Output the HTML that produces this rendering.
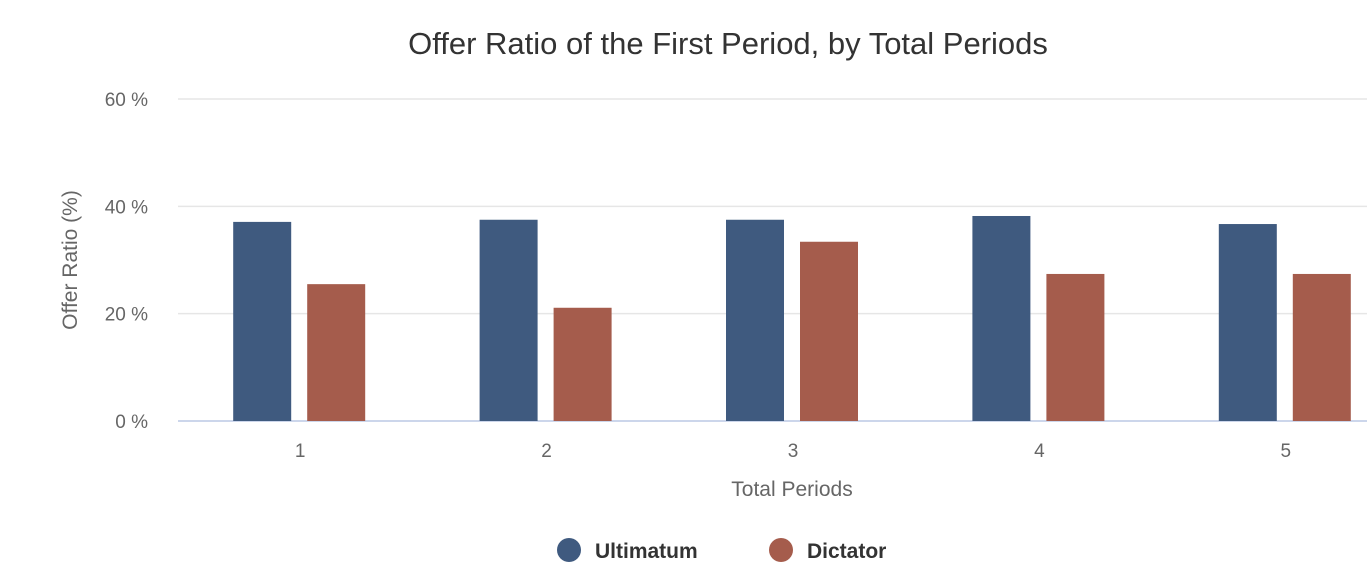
<!DOCTYPE html>
<html><head><meta charset="utf-8">
<style>
body{margin:0;background:#fff;font-family:"Liberation Sans",sans-serif;}
svg{display:block}
</style></head>
<body>
<svg width="1367" height="574">
<text x="728" y="54" text-anchor="middle" font-size="31" fill="#333">Offer Ratio of the First Period, by Total Periods</text>
<g id="grid"></g>
<g id="bars"></g>
<g id="xlabels"></g>
<text x="792" y="496" text-anchor="middle" font-size="21" fill="#666">Total Periods</text>
<text transform="translate(77,260) rotate(-90)" text-anchor="middle" font-size="21" fill="#666">Offer Ratio (%)</text>
<g><circle cx="569" cy="550" r="12" fill="#3f5a7f"/><text x="595" y="558" font-size="21" font-weight="bold" fill="#333">Ultimatum</text></g>
<g><circle cx="781" cy="550" r="12" fill="#a55c4c"/><text x="807" y="558" font-size="21" font-weight="bold" fill="#333">Dictator</text></g>
</svg>
<script>
const categories=["1","2","3","4","5"];
const ultimatum=[37.1,37.5,37.5,38.2,36.7];
const dictator=[25.5,21.1,33.4,27.4,27.4];
const yTicks=[0,20,40,60];
const NS="http://www.w3.org/2000/svg";
const y0=421,yTop=99,yMax=60,xLeft=177,catW=246.4;
const y=v=>y0-(v/yMax)*(y0-yTop);
const xc=i=>xLeft+catW*(i+0.5);
function mk(tag,attrs,parent){const e=document.createElementNS(NS,tag);for(const k in attrs)e.setAttribute(k,attrs[k]);parent.appendChild(e);return e;}
const grid=document.getElementById('grid');
yTicks.forEach(t=>{
 const l=mk('line',{x1:178,x2:1367,y1:y(t),y2:y(t),stroke:t===0?'#ccd6eb':'#e6e6e6','stroke-width':t===0?2:1.5},grid);
 
 
 const tx=mk('text',{x:148,y:y(t)+7,'text-anchor':'end','font-size':19,fill:'#666'},grid);
 tx.textContent=t+' %';
 
 
});
const bars=document.getElementById('bars'),xl=document.getElementById('xlabels');
categories.forEach((c,i)=>{
 const cx=xc(i);
 const u=mk('rect',{x:cx-67,y:y(ultimatum[i]),width:58,height:y0-y(ultimatum[i]),fill:'#3f5a7f'},bars);
 
 
 const d=mk('rect',{x:cx+7,y:y(dictator[i]),width:58,height:y0-y(dictator[i]),fill:'#a55c4c'},bars);
 
 
 const t=mk('text',{x:cx,y:457,'text-anchor':'middle','font-size':19,fill:'#666'},xl);
 t.textContent=c;
 
 
});
</script>
</body></html>
